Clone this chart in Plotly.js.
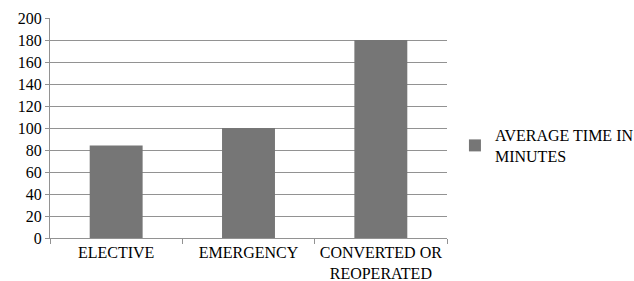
<!DOCTYPE html>
<html>
<head>
<meta charset="utf-8">
<script src="https://cdn.plot.ly/plotly-3.0.1.min.js"></script>
<style>html,body{margin:0;padding:0;background:#fff;}#chart{width:634px;height:281px;}</style>
</head>
<body>
<div id="chart"></div>
<script>
const categories = ["ELECTIVE", "EMERGENCY", "CONVERTED OR<br>REOPERATED"];
const averageTime = [84, 100, 180];
const seriesName = "AVERAGE TIME IN<br>MINUTES";
const yTicks = [0, 20, 40, 60, 80, 100, 120, 140, 160, 180, 200];

const font = {family: "Liberation Serif, DejaVu Serif, serif", size: 16, color: "#000"};

Plotly.newPlot("chart", [{
  type: "bar",
  x: categories,
  y: averageTime,
  name: seriesName,
  marker: {color: "#767676"},
  showlegend: true,
  hoverinfo: "none"
}], {
  width: 634, height: 281,
  margin: {l: 50, r: 187, t: 18, b: 43, autoexpand: false},
  paper_bgcolor: "#fff", plot_bgcolor: "#fff",
  font: font,
  bargap: 0.6,
  showlegend: true,
  legend: {x: 1.02, y: 0.42, xanchor: "left", yanchor: "middle", font: font, bgcolor: "rgba(0,0,0,0)", tracegroupgap: 0},
  xaxis: {
    type: "category",
    showline: true, linecolor: "#929292", linewidth: 1,
    ticks: "outside", tickson: "boundaries", ticklen: 5, tickcolor: "#929292",
    showgrid: false, zeroline: false, tickfont: font, automargin: false
  },
  yaxis: {
    range: [0, 200], tickvals: yTicks, ticktext: yTicks.map(String),
    showline: true, linecolor: "#929292", linewidth: 1,
    ticks: "outside", ticklen: 4, tickcolor: "#929292",
    showgrid: true, gridcolor: "#929292", gridwidth: 1, zeroline: false,
    tickfont: font, automargin: false
  }
}, {staticPlot: true});
</script>
</body>
</html>
